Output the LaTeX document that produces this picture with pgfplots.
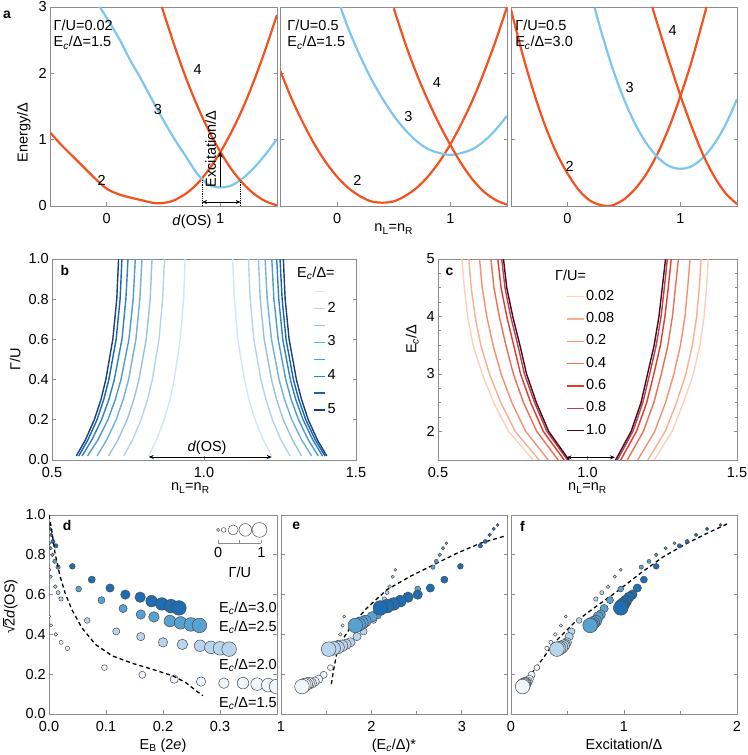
\documentclass[border=0pt]{standalone}
\usepackage{fontspec}
\setmainfont{Liberation Sans}
\usepackage{pgfplots}
\pgfplotsset{compat=1.18}
\usepackage{pgfplotstable}
\usetikzlibrary{arrows.meta}

\definecolor{redA}{HTML}{F4511E}
\definecolor{bluA}{HTML}{7CC7EF}
\definecolor{b15}{HTML}{D4E5F4}
\definecolor{b20}{HTML}{B5D4E9}
\definecolor{b25}{HTML}{97C3E0}
\definecolor{b30}{HTML}{72B1D9}
\definecolor{b35}{HTML}{4E9BCD}
\definecolor{b40}{HTML}{3082C0}
\definecolor{b45}{HTML}{1A65AA}
\definecolor{b50}{HTML}{1D3F7A}
\definecolor{c002}{HTML}{FDD0BC}
\definecolor{c008}{HTML}{FCAE91}
\definecolor{c02}{HTML}{FB8E6E}
\definecolor{c04}{HTML}{F36D52}
\definecolor{c06}{HTML}{E8382C}
\definecolor{c08}{HTML}{B4424F}
\definecolor{c10}{HTML}{4F0A1C}
\definecolor{cW}{HTML}{EFF6FD}
\definecolor{cL}{HTML}{B8D5ED}
\definecolor{cM}{HTML}{58A1D3}
\definecolor{cD}{HTML}{1F6DB3}
\definecolor{frame}{HTML}{8C8C8C}

\newcommand{\fs}{\fontsize{14.5bp}{17bp}\selectfont}
\newcommand{\Ec}{E\textsubscript{\textit{c}}}
\newcommand{\nLR}{n\textsubscript{L}=n\textsubscript{R}}
\newcommand{\ovl}[1]{{\setbox0\hbox{#1}\rlap{\rule[0.74em]{\wd0}{0.07em}}\box0}}

\pgfplotsset{
  panel/.style={
    scale only axis, anchor=south west,
    axis line style={draw=frame, line width=0.9bp},
    tick style={draw=frame, line width=0.7bp},
    major tick length=3.5bp, minor tick length=2.5bp,
    tick align=inside, xtick pos=bottom, ytick pos=both,
    /pgf/number format/assume math mode=true,
    xticklabel style={inner sep=2bp, yshift=-5bp},
    yticklabel style={inner sep=3bp},
    every axis x label/.style={at={(rel axis cs:0.5,0)}, anchor=base},
    legend cell align=left,
  },
  onedec/.style={
    /pgf/number format/fixed, /pgf/number format/fixed zerofill,
    /pgf/number format/precision=1},
  bub/.style={scatter, only marks, mark=*,
    scatter/use mapped color={draw=black!70, fill=#1},
    visualization depends on={\thisrow{r}\as\rr},
    scatter/@pre marker code/.append style={/tikz/mark size=\rr bp},
    mark options={line width=0.5bp}},
  dsh/.style={black, line width=1.3bp, dash pattern=on 4bp off 3bp},
}
\tikzset{lbl/.style={inner sep=0pt}, pl/.style={font=\fontsize{14}{16}\selectfont\bfseries, inner sep=0pt}}

% panel b: n at given Gamma/U for each Ec/Delta (left and right boundaries)
\pgfplotstableread{
g L15 L20 L25 L30 L35 L40 L45 L50 R15 R20 R25 R30 R35 R40 R45 R50
0.02 0.818 0.736 0.686 0.648 0.617 0.599 0.588 0.580 1.223 1.283 1.321 1.354 1.376 1.390 1.398 1.404
0.1 0.844 0.765 0.717 0.680 0.651 0.631 0.618 0.610 1.195 1.253 1.291 1.321 1.343 1.358 1.366 1.373
0.2 0.869 0.793 0.747 0.711 0.684 0.663 0.648 0.639 1.168 1.225 1.261 1.289 1.311 1.326 1.335 1.343
0.3 0.888 0.814 0.769 0.734 0.708 0.687 0.670 0.661 1.148 1.204 1.239 1.265 1.287 1.302 1.312 1.321
0.4 0.902 0.830 0.786 0.752 0.727 0.705 0.687 0.677 1.133 1.187 1.222 1.247 1.269 1.284 1.294 1.304
0.6 0.922 0.852 0.810 0.776 0.753 0.730 0.711 0.700 1.111 1.164 1.198 1.222 1.244 1.259 1.270 1.280
0.8 0.933 0.864 0.823 0.789 0.767 0.743 0.724 0.713 1.100 1.152 1.185 1.208 1.230 1.246 1.257 1.267
1.0 0.938 0.870 0.829 0.796 0.774 0.750 0.730 0.719 1.094 1.146 1.179 1.201 1.223 1.239 1.250 1.261
}\tB

% panel c: n at given Ec/Delta for each Gamma/U
\pgfplotstableread{
E L002 L008 L02 L04 L06 L08 L10 R002 R008 R02 R04 R06 R08 R10
1.5 0.818 0.838 0.869 0.902 0.922 0.933 0.938 1.223 1.202 1.168 1.133 1.111 1.100 1.094
2.0 0.736 0.758 0.793 0.830 0.852 0.864 0.870 1.283 1.260 1.225 1.187 1.164 1.152 1.146
2.5 0.686 0.710 0.747 0.786 0.810 0.823 0.829 1.321 1.298 1.261 1.222 1.198 1.185 1.179
3.0 0.648 0.672 0.711 0.752 0.776 0.789 0.796 1.354 1.329 1.289 1.247 1.222 1.208 1.201
3.5 0.617 0.643 0.684 0.727 0.753 0.767 0.774 1.376 1.351 1.311 1.269 1.244 1.230 1.223
4.0 0.599 0.624 0.663 0.705 0.730 0.743 0.750 1.390 1.365 1.326 1.284 1.259 1.246 1.239
4.5 0.588 0.611 0.648 0.687 0.711 0.724 0.730 1.398 1.374 1.335 1.294 1.270 1.257 1.250
5.0 0.580 0.603 0.639 0.677 0.700 0.713 0.719 1.404 1.380 1.343 1.304 1.280 1.267 1.261
}\tC

% panels d-f: one table per Ec/Delta; g=Gamma/U, r=marker radius,
% y=sqrt2 d(OS), d=E_B, e=(Ec/Delta)*, f=Excitation/Delta
\pgfplotstableread{
g r y d e f
0.02 1.47 0.490 0.0005 1.700 0.485
0.04 1.66 0.445 0.0035 1.682 0.441
0.06 1.84 0.400 0.0118 1.656 0.391
0.08 2.01 0.360 0.0212 1.627 0.353
0.1 2.17 0.330 0.0324 1.612 0.318
0.2 2.88 0.233 0.0972 1.546 0.229
0.3 3.53 0.197 0.1637 1.472 0.182
0.4 4.13 0.175 0.2197 1.417 0.162
0.5 4.70 0.163 0.2668 1.372 0.147
0.6 5.25 0.155 0.3068 1.336 0.135
0.7 5.79 0.155 0.3404 1.306 0.126
0.8 6.30 0.150 0.3651 1.280 0.118
0.9 6.81 0.145 0.3846 1.258 0.109
1.0 7.30 0.138 0.3993 1.232 0.103
}\tW
\pgfplotstableread{
g r y d e f
0.02 1.47 0.725 0.0010 2.265 0.971
0.04 1.66 0.690 0.0030 2.235 0.918
0.06 1.84 0.640 0.0110 2.202 0.859
0.08 2.01 0.610 0.0160 2.173 0.803
0.1 2.17 0.578 0.0210 2.143 0.750
0.2 2.88 0.470 0.0670 2.025 0.603
0.3 3.53 0.415 0.1180 1.914 0.535
0.4 4.13 0.389 0.1610 1.841 0.515
0.5 4.70 0.360 0.2000 1.767 0.494
0.6 5.25 0.350 0.2340 1.719 0.479
0.7 5.79 0.343 0.2650 1.675 0.465
0.8 6.30 0.335 0.2840 1.631 0.447
0.9 6.81 0.330 0.3000 1.583 0.426
1.0 7.30 0.326 0.3160 1.527 0.406
}\tL
\pgfplotstableread{
g r y d e f
0.02 1.47 0.858 0.0010 2.829 1.447
0.04 1.66 0.833 0.0030 2.792 1.368
0.06 1.84 0.800 0.0060 2.755 1.285
0.08 2.01 0.767 0.0100 2.718 1.221
0.1 2.17 0.738 0.0160 2.681 1.153
0.2 2.88 0.628 0.0520 2.512 0.971
0.3 3.53 0.572 0.0920 2.320 0.876
0.4 4.13 0.530 0.1300 2.173 0.824
0.5 4.70 0.500 0.1610 2.062 0.794
0.6 5.25 0.488 0.1840 2.007 0.771
0.7 5.79 0.467 0.2120 1.933 0.750
0.8 6.30 0.458 0.2310 1.896 0.729
0.9 6.81 0.450 0.2490 1.859 0.712
1.0 7.30 0.445 0.2640 1.822 0.700
}\tM
\pgfplotstableread{
g r y d e f
0.02 1.47 0.950 0.0005 3.397 1.853
0.04 1.66 0.930 0.0020 3.353 1.735
0.06 1.84 0.900 0.0040 3.308 1.638
0.08 2.01 0.867 0.0070 3.260 1.559
0.1 2.17 0.845 0.0120 3.205 1.491
0.2 2.88 0.742 0.0410 2.984 1.285
0.3 3.53 0.675 0.0750 2.807 1.176
0.4 4.13 0.633 0.1070 2.652 1.118
0.5 4.70 0.600 0.1340 2.512 1.074
0.6 5.25 0.587 0.1600 2.405 1.044
0.7 5.79 0.567 0.1800 2.320 1.015
0.8 6.30 0.553 0.1980 2.246 0.994
0.9 6.81 0.542 0.2140 2.173 0.979
1.0 7.30 0.533 0.2280 2.099 0.971
}\tD

\begin{document}
\fs
\begin{tikzpicture}
\useasboundingbox (0bp,0bp) rectangle (748bp,755bp);

%%%%%%%%%% a1
\begin{axis}[panel, at={(50bp,549bp)}, width=227bp, height=199bp,
  xmin=-0.5, xmax=1.5, ymin=0, ymax=3, xtick={0,1}, ytick={0,1,2,3},
  ylabel={Energy/Δ}, ylabel style={at={(ticklabel cs:0.37)}}]
\addplot[redA, line width=2.2bp, smooth] coordinates {
(-0.5,1.11) (-0.4,0.92) (-0.3,0.75) (-0.2,0.58) (-0.1,0.41) (0,0.26) (0.1,0.18)
(0.2,0.13) (0.3,0.09) (0.4,0.05) (0.46,0.04) (0.55,0.06) (0.6,0.09) (0.7,0.19)
(0.8,0.34) (0.9,0.55) (1.0,0.81) (1.1,1.12) (1.2,1.48) (1.3,1.90) (1.4,2.37) (1.5,2.88)};
\addplot[bluA, line width=2.2bp, smooth] coordinates {
(-0.06,3.0) (0.1,2.55) (0.2,2.22) (0.3,1.92) (0.4,1.60) (0.5,1.29) (0.6,1.0)
(0.7,0.74) (0.8,0.48) (0.9,0.32) (1.0,0.28) (1.1,0.31) (1.2,0.42) (1.3,0.58)
(1.4,0.78) (1.5,1.01)};
\addplot[redA, line width=2.2bp, smooth] coordinates {
(0.485,3.0) (0.6,2.40) (0.7,1.92) (0.8,1.50) (0.9,1.13) (1.0,0.82) (1.1,0.55)
(1.2,0.34) (1.3,0.18) (1.4,0.07) (1.5,0.01)};
\draw[black, line width=0.8bp, densely dotted] (axis cs:0.84,0) -- (axis cs:0.84,0.39);
\draw[black, line width=0.8bp, densely dotted] (axis cs:1.18,0) -- (axis cs:1.18,0.36);
\draw[black, line width=0.8bp, {Stealth[length=5bp,width=4bp]}-{Stealth[length=5bp,width=4bp]}]
  (axis cs:0.84,0.06) -- (axis cs:1.18,0.06);
\draw[black, line width=0.9bp, -{Stealth[length=6bp,width=5bp]}] (axis cs:1,0.28) -- (axis cs:1,0.82);
\node[lbl, rotate=90, anchor=south] at (axis cs:0.965,0.86) {Excitation/Δ};
\node[lbl] at (axis cs:-0.045,0.39) {2};
\node[lbl] at (axis cs:0.45,1.45) {3};
\node[lbl] at (axis cs:0.80,2.06) {4};
\node[lbl, anchor=west] at (rel axis cs:0.015,0.91) {Γ/U=0.02};
\node[lbl, anchor=west] at (rel axis cs:0.015,0.82) {\Ec/Δ=1.5};
\end{axis}

%%%%%%%%%% a2
\begin{axis}[panel, at={(280.5bp,549bp)}, width=226.5bp, height=199bp,
  xmin=-0.5, xmax=1.5, ymin=0, ymax=3, xtick={0,1}, ytick={0,1,2,3}, yticklabels={},
  xlabel={\nLR}, xlabel style={yshift=-26bp}]
\addplot[redA, line width=2.2bp, smooth] coordinates {
(-0.5,2.03) (-0.4,1.61) (-0.3,1.25) (-0.2,0.93) (-0.1,0.66) (0,0.44) (0.1,0.27)
(0.2,0.15) (0.3,0.07) (0.4,0.05) (0.5,0.07) (0.6,0.15) (0.7,0.27) (0.8,0.44)
(0.9,0.66) (1.0,0.93) (1.1,1.25) (1.2,1.61) (1.3,2.03) (1.4,2.49) (1.5,3.0)};
\addplot[bluA, line width=2.2bp, smooth] coordinates {
(0.03,3.0) (0.1,2.67) (0.2,2.27) (0.3,1.92) (0.4,1.62) (0.5,1.36) (0.6,1.15)
(0.7,0.98) (0.8,0.86) (0.9,0.80) (1.0,0.77) (1.1,0.80) (1.2,0.86) (1.3,0.98)
(1.4,1.15) (1.5,1.36)};
\addplot[redA, line width=2.2bp, smooth] coordinates {
(0.5,2.98) (0.6,2.46) (0.7,2.0) (0.8,1.60) (0.9,1.24) (1.0,0.92) (1.1,0.63)
(1.2,0.39) (1.3,0.21) (1.4,0.09) (1.5,0.02)};
\node[lbl] at (axis cs:0.18,0.39) {2};
\node[lbl] at (axis cs:0.63,1.35) {3};
\node[lbl] at (axis cs:0.88,1.86) {4};
\node[lbl, anchor=west] at (rel axis cs:0.03,0.91) {Γ/U=0.5};
\node[lbl, anchor=west] at (rel axis cs:0.03,0.82) {\Ec/Δ=1.5};
\end{axis}

%%%%%%%%%% a3
\begin{axis}[panel, at={(511bp,549bp)}, width=226bp, height=199bp,
  xmin=-0.5, xmax=1.5, ymin=0, ymax=3, xtick={0,1}, ytick={0,1,2,3}, yticklabels={}]
\addplot[redA, line width=2.2bp, smooth] coordinates {
(-0.5,2.96) (-0.4,2.30) (-0.3,1.72) (-0.2,1.22) (-0.1,0.81) (0,0.49) (0.1,0.24)
(0.2,0.08) (0.3,0.01) (0.34,0.0) (0.4,0.01) (0.5,0.10) (0.6,0.26) (0.7,0.49)
(0.8,0.80) (0.9,1.19) (1.0,1.66) (1.1,2.19) (1.2,2.81) (1.23,3.0)};
\addplot[bluA, line width=2.2bp, smooth] coordinates {
(0.24,2.99) (0.3,2.62) (0.4,2.07) (0.5,1.61) (0.6,1.23) (0.7,0.94) (0.8,0.73)
(0.9,0.60) (1.0,0.56) (1.1,0.60) (1.2,0.73) (1.3,0.94) (1.4,1.23) (1.5,1.61)};
\addplot[redA, line width=2.2bp, smooth] coordinates {
(0.75,3.0) (0.8,2.72) (0.9,2.18) (1.0,1.66) (1.1,1.19) (1.2,0.77) (1.3,0.44)
(1.4,0.19) (1.5,0.03)};
\node[lbl] at (axis cs:0.02,0.60) {2};
\node[lbl] at (axis cs:0.55,1.78) {3};
\node[lbl] at (axis cs:0.93,2.64) {4};
\node[lbl, anchor=west] at (rel axis cs:0.018,0.91) {Γ/U=0.5};
\node[lbl, anchor=west] at (rel axis cs:0.018,0.82) {\Ec/Δ=3.0};
\end{axis}

%%%%%%%%%% b
\begin{axis}[panel, at={(52bp,295bp)}, width=304bp, height=201bp,
  xmin=0.5, xmax=1.5, ymin=0, ymax=1, xtick={0.5,1,1.5}, ytick={0,0.2,...,1},
  onedec, xlabel={\nLR}, xlabel style={at={(rel axis cs:0.455,0)}, yshift=-31bp},
  ylabel={Γ/U},
  legend style={at={(0.86,0.878)}, anchor=north west, draw=none, fill=none,
    inner sep=0pt, row sep=0.9bp, nodes={inner sep=1.5bp, text height=10bp, text depth=3bp}},
  legend image code/.code={\draw[#1] (0bp,0bp) -- (11bp,0bp);}]
\addplot[b15, line width=1.4bp] table[x=L15, y=g]{\tB}; \addlegendentry{}
\addplot[b20, line width=1.4bp] table[x=L20, y=g]{\tB}; \addlegendentry{2}
\addplot[b25, line width=1.4bp] table[x=L25, y=g]{\tB}; \addlegendentry{}
\addplot[b30, line width=1.4bp] table[x=L30, y=g]{\tB}; \addlegendentry{3}
\addplot[b35, line width=1.4bp] table[x=L35, y=g]{\tB}; \addlegendentry{}
\addplot[b40, line width=1.4bp] table[x=L40, y=g]{\tB}; \addlegendentry{4}
\addplot[b45, line width=1.4bp] table[x=L45, y=g]{\tB}; \addlegendentry{}
\addplot[b50, line width=1.4bp] table[x=L50, y=g]{\tB}; \addlegendentry{5}
\addplot[b15, line width=1.4bp, forget plot] table[x=R15, y=g]{\tB};
\addplot[b20, line width=1.4bp, forget plot] table[x=R20, y=g]{\tB};
\addplot[b25, line width=1.4bp, forget plot] table[x=R25, y=g]{\tB};
\addplot[b30, line width=1.4bp, forget plot] table[x=R30, y=g]{\tB};
\addplot[b35, line width=1.4bp, forget plot] table[x=R35, y=g]{\tB};
\addplot[b40, line width=1.4bp, forget plot] table[x=R40, y=g]{\tB};
\addplot[b45, line width=1.4bp, forget plot] table[x=R45, y=g]{\tB};
\addplot[b50, line width=1.4bp, forget plot] table[x=R50, y=g]{\tB};
\draw[black, line width=0.8bp, {Stealth[length=5bp,width=4bp]}-{Stealth[length=5bp,width=4bp]}]
  (axis cs:0.818,0.015) -- (axis cs:1.223,0.015);
\node[lbl] at (axis cs:1.01,0.062) {\textit{d}(OS)};
\node[lbl, anchor=west] at (rel axis cs:0.806,0.93) {\Ec/Δ=};
\node[pl, anchor=west] at (rel axis cs:0.028,0.945) {b};
\end{axis}

%%%%%%%%%% c
\begin{axis}[panel, at={(438bp,295bp)}, width=299bp, height=201bp,
  xmin=0.5, xmax=1.5, ymin=1.5, ymax=5, xtick={0.5,1,1.5}, ytick={2,3,4,5},
  minor y tick num=3,
  xticklabel style={/pgf/number format/.cd, fixed, fixed zerofill, precision=1},
  xlabel={\nLR}, xlabel style={yshift=-31bp},
  ylabel={\Ec/Δ}, ylabel style={at={(ticklabel cs:0.6)}},
  legend style={at={(0.428,0.853)}, anchor=north west, draw=none, fill=none,
    inner sep=0pt, row sep=6.3bp, nodes={inner sep=1.5bp, text height=10bp, text depth=3bp}},
  legend image code/.code={\draw[#1] (0bp,0bp) -- (17bp,0bp);}]
\addplot[c002, line width=1.4bp] table[x=L002, y=E]{\tC}; \addlegendentry{0.02}
\addplot[c008, line width=1.4bp] table[x=L008, y=E]{\tC}; \addlegendentry{0.08}
\addplot[c02, line width=1.4bp] table[x=L02, y=E]{\tC}; \addlegendentry{0.2}
\addplot[c04, line width=1.4bp] table[x=L04, y=E]{\tC}; \addlegendentry{0.4}
\addplot[c06, line width=1.4bp] table[x=L06, y=E]{\tC}; \addlegendentry{0.6}
\addplot[c08, line width=1.4bp] table[x=L08, y=E]{\tC}; \addlegendentry{0.8}
\addplot[c10, line width=1.4bp] table[x=L10, y=E]{\tC}; \addlegendentry{1.0}
\addplot[c002, line width=1.4bp, forget plot] table[x=R002, y=E]{\tC};
\addplot[c008, line width=1.4bp, forget plot] table[x=R008, y=E]{\tC};
\addplot[c02, line width=1.4bp, forget plot] table[x=R02, y=E]{\tC};
\addplot[c04, line width=1.4bp, forget plot] table[x=R04, y=E]{\tC};
\addplot[c06, line width=1.4bp, forget plot] table[x=R06, y=E]{\tC};
\addplot[c08, line width=1.4bp, forget plot] table[x=R08, y=E]{\tC};
\addplot[c10, line width=1.4bp, forget plot] table[x=R10, y=E]{\tC};
\draw[black, line width=0.8bp, {Stealth[length=5bp,width=4bp]}-{Stealth[length=5bp,width=4bp]}]
  (axis cs:0.93,1.546) -- (axis cs:1.092,1.546);
\node[lbl, anchor=west] at (rel axis cs:0.391,0.92) {Γ/U=};
\node[pl, anchor=west] at (rel axis cs:0.025,0.935) {c};
\end{axis}

%%%%%%%%%% d
\begin{axis}[panel, at={(49bp,41bp)}, width=228bp, height=199bp,
  xmin=0, xmax=0.4, ymin=0, ymax=1, xtick={0,0.1,0.2,0.3}, ytick={0,0.2,...,1},
  onedec, clip marker paths=true,
  xlabel={E\textsubscript{B} (2\textit{e})}, xlabel style={yshift=-35bp},
  ylabel={√\kern-0.5bp\ovl{2}\textit{d}(OS)}, ylabel style={at={(ticklabel cs:0.54)}}]
\addplot[bub=cW] table[x=d, y=y]{\tW};
\addplot[bub=cL] table[x=d, y=y]{\tL};
\addplot[bub=cM] table[x=d, y=y]{\tM};
\addplot[bub=cD] table[x=d, y=y]{\tD};
\addplot[dsh] coordinates {
(0,1.0) (0.0047,0.925) (0.0106,0.808) (0.0194,0.692) (0.0283,0.608) (0.040,0.525)
(0.0577,0.433) (0.0813,0.35) (0.111,0.292) (0.146,0.255) (0.181,0.225)
(0.217,0.192) (0.240,0.158) (0.258,0.117) (0.270,0.092)};
% size key
\addplot[bub=white] table[x=x, y=y]{
x y r
0.2968 0.925 1.6
0.3064 0.925 2.4
0.3229 0.925 5.0
0.3445 0.925 6.3
0.3693 0.925 7.4
};
\draw[frame, line width=0.7bp] (axis cs:0.2968,0.859) -- (axis cs:0.3728,0.859);
\draw[frame, line width=0.7bp] (axis cs:0.2968,0.859) -- (axis cs:0.2968,0.874);
\draw[frame, line width=0.7bp] (axis cs:0.3348,0.859) -- (axis cs:0.3348,0.874);
\draw[frame, line width=0.7bp] (axis cs:0.3728,0.859) -- (axis cs:0.3728,0.874);
\node[lbl] at (axis cs:0.2968,0.809) {0};
\node[lbl] at (axis cs:0.3728,0.809) {1};
\node[lbl] at (axis cs:0.3348,0.714) {Γ/U};
\node[lbl, anchor=east] at (rel axis cs:1.0,0.533) {\Ec/Δ=3.0};
\node[lbl, anchor=east] at (rel axis cs:1.0,0.437) {\Ec/Δ=2.5};
\node[lbl, anchor=east] at (rel axis cs:1.0,0.246) {\Ec/Δ=2.0};
\node[lbl, anchor=east] at (rel axis cs:1.0,0.055) {\Ec/Δ=1.5};
\node[pl, anchor=west] at (rel axis cs:0.06,0.945) {d};
\end{axis}

%%%%%%%%%% e
\begin{axis}[panel, at={(281bp,41bp)}, width=226bp, height=199bp,
  xmin=1, xmax=3.5, ymin=0, ymax=1, xtick={1,2,3}, minor xtick={1.5,2.5},
  ytick={0,0.2,...,1}, yticklabels={},
  xlabel={(\Ec/Δ)*}, xlabel style={yshift=-35bp}]
\addplot[bub=cW] table[x=e, y=y]{\tW};
\addplot[bub=cL] table[x=e, y=y]{\tL};
\addplot[bub=cM] table[x=e, y=y]{\tM};
\addplot[bub=cD] table[x=e, y=y]{\tD};
\addplot[dsh] coordinates {
(1.557,0.15) (1.583,0.225) (1.619,0.308) (1.693,0.383) (1.804,0.458) (1.951,0.533)
(2.173,0.625) (2.431,0.692) (2.689,0.75) (2.947,0.808) (3.205,0.858) (3.482,0.895)};
\node[pl, anchor=west] at (rel axis cs:0.049,0.945) {e};
\end{axis}

%%%%%%%%%% f
\begin{axis}[panel, at={(511bp,41bp)}, width=226bp, height=199bp,
  xmin=0, xmax=2, ymin=0, ymax=1, xtick={0,1,2}, minor xtick={0.5,1.5},
  ytick={0,0.2,...,1}, yticklabels={},
  xlabel={Excitation/Δ}, xlabel style={yshift=-35bp}]
\addplot[bub=cW] table[x=f, y=y]{\tW};
\addplot[bub=cL] table[x=f, y=y]{\tL};
\addplot[bub=cM] table[x=f, y=y]{\tM};
\addplot[bub=cD] table[x=f, y=y]{\tD};
\addplot[dsh] coordinates {
(0.103,0.15) (0.235,0.242) (0.382,0.358) (0.559,0.458) (0.735,0.533) (0.941,0.617)
(1.147,0.708) (1.353,0.792) (1.559,0.858) (1.735,0.908) (1.912,0.955)};
\node[pl, anchor=west] at (rel axis cs:0.04,0.94) {f};
\end{axis}

\node[pl, anchor=west] at (3bp,740bp) {a};
\node[lbl] at (192bp,533bp) {\textit{d}(OS)};
\end{tikzpicture}
\end{document}
